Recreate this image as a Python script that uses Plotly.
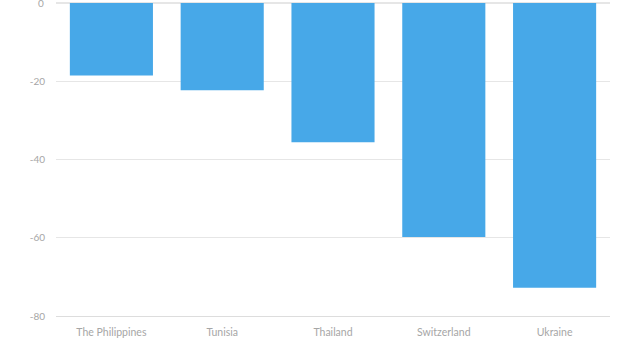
import plotly.graph_objects as go

countries = ["The Philippines", "Tunisia", "Thailand", "Switzerland", "Ukraine"]
values = [-18.5, -22.3, -35.6, -59.8, -72.8]
y_ticks = [0, -20, -40, -60, -80]

BAR_COLOR = "#47a8e8"
TEXT_COLOR = "#a6a6a6"

fig = go.Figure()
fig.add_trace(go.Bar(
    x=countries, y=values,
    marker_color=BAR_COLOR, marker_line_width=0,
    showlegend=False,
))

fig.update_layout(
    width=621, height=338,
    paper_bgcolor="white", plot_bgcolor="white",
    margin=dict(l=56, r=11, t=3, b=22),
    bargap=0.25,
    font=dict(family="Lato, Roboto, sans-serif", color=TEXT_COLOR, size=10),
    xaxis=dict(
        showgrid=False, showline=True, linecolor="#dddddd", linewidth=1,
        ticks="", tickfont=dict(size=10.5), automargin=False,
        anchor="free", position=0, ticklabelstandoff=6,
    ),
    yaxis=dict(
        range=[-80, 0], tickvals=y_ticks, ticktext=[str(v) for v in y_ticks],
        showgrid=True, gridcolor="#e6e6e6", gridwidth=1,
        zeroline=True, zerolinecolor="#e6e6e6", automargin=False,
        ticks="", ticklabelstandoff=10,
    ),
)

# plotly drops the top tick label because it sticks out of the page; draw it by hand
fig.add_annotation(
    x=0, xref="paper", xanchor="right", xshift=-10,
    y=y_ticks[0], yref="y", yanchor="middle",
    text=str(y_ticks[0]), showarrow=False,
    font=dict(size=10, color=TEXT_COLOR),
)

# the page's default body margin would shift the chart by 8px
fig.write_html(
    "out.html",
    config={"displayModeBar": False},
    post_script="document.body.style.margin='0';",
)
